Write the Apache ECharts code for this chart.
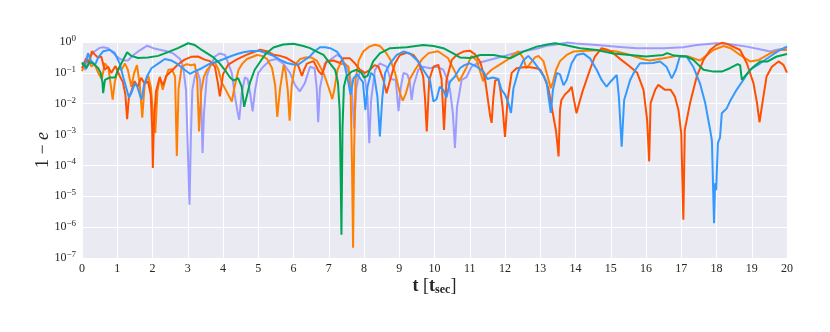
<!DOCTYPE html>
<html>
<head>
<meta charset="utf-8">
<script src="https://cdn.jsdelivr.net/npm/echarts@6/dist/echarts.min.js"></script>
<style>
html, body { margin: 0; padding: 0; background: #fff; }
#chart { width: 830px; height: 332px; }
</style>
</head>
<body>
<div id="chart"></div>
<script>
// points are [t, log10(1 - e)]
const redPts = [
  [0, -0.85], [0.12, -0.52], [0.2, -0.7], [0.28, -0.3], [0.36, -0.4], [0.45, -0.5], [0.55, -0.48], [0.64, -0.9],
  [0.74, -0.8], [0.83, -1.0], [0.95, -0.78], [1.07, -1.1], [1.16, -1.3], [1.23, -1.7], [1.28, -2.5], [1.33, -1.8],
  [1.4, -1.6], [1.49, -1.27], [1.58, -1.45], [1.68, -1.16], [1.78, -1.35], [1.87, -1.27], [1.95, -1.7], [1.99, -2.8],
  [2.01, -4.08], [2.04, -2.6], [2.1, -1.6], [2.2, -1.16], [2.3, -1.4], [2.39, -1.1], [2.54, -0.94], [2.72, -0.73],
  [2.91, -0.57], [3.1, -0.48], [3.29, -0.47], [3.48, -0.57], [3.63, -0.62], [3.77, -0.8], [3.85, -1.3], [3.91, -1.76],
  [3.96, -1.4], [4.0, -1.05], [4.15, -0.73], [4.38, -0.57], [4.68, -0.41], [5.05, -0.25], [5.24, -0.3], [5.43, -0.41],
  [5.62, -0.45], [5.81, -0.52], [6.0, -0.65], [6.14, -0.78], [6.24, -1.1], [6.3, -0.9], [6.38, -0.7], [6.57, -0.62],
  [6.71, -0.94], [6.8, -1.06], [6.94, -0.62], [7.13, -0.6], [7.32, -0.68], [7.41, -0.53], [7.6, -0.53], [7.74, -0.69],
  [7.89, -0.9], [8.03, -1.0], [8.17, -0.9], [8.3, -0.75], [8.41, -0.8], [8.55, -1.23], [8.64, -1.66], [8.74, -1.23],
  [8.88, -0.69], [9.02, -0.42], [9.21, -0.35], [9.4, -0.42], [9.54, -0.63], [9.68, -1.12], [9.73, -1.8], [9.78, -2.9],
  [9.85, -1.23], [9.97, -0.8], [10.11, -0.74], [10.2, -1.2], [10.27, -2.85], [10.34, -1.23], [10.49, -0.58], [10.63, -0.42],
  [10.82, -0.31], [11.0, -0.28], [11.15, -0.4], [11.3, -0.65], [11.44, -1.25], [11.53, -2.0], [11.58, -2.4], [11.62, -2.62],
  [11.67, -1.8], [11.72, -1.25], [11.81, -1.2], [11.86, -1.49], [11.93, -2.1], [12.0, -3.08], [12.07, -1.9], [12.19, -1.0],
  [12.33, -0.85], [12.52, -0.82], [12.71, -0.82], [12.9, -0.85], [13.0, -0.9], [13.1, -1.1], [13.23, -1.5], [13.33, -2.14],
  [13.45, -2.9], [13.52, -3.71], [13.56, -2.2], [13.6, -1.88], [13.7, -1.7], [13.8, -1.6], [13.89, -1.45], [13.96, -1.9],
  [14.03, -2.31], [14.1, -2.0], [14.2, -1.6], [14.41, -0.9], [14.55, -0.47], [14.74, -0.2], [14.9, -0.25], [15.07, -0.36],
  [15.3, -0.58], [15.55, -0.8], [15.75, -1.0], [15.93, -1.55], [16.03, -2.5], [16.09, -3.87], [16.13, -1.98], [16.26, -1.55],
  [16.35, -1.39], [16.54, -1.55], [16.7, -1.55], [16.82, -1.77], [16.92, -2.2], [17.0, -2.96], [17.06, -5.76], [17.1, -2.85],
  [17.25, -1.98], [17.44, -1.12], [17.63, -0.58], [17.82, -0.26], [18.0, -0.1], [18.17, -0.02], [18.38, -0.1], [18.67, -0.26],
  [18.86, -0.69], [19.05, -1.34], [19.15, -1.98], [19.22, -2.6], [19.33, -1.77], [19.42, -1.12], [19.57, -0.8], [19.76, -0.63],
  [19.9, -0.74], [20.0, -0.99]
];
const orangePts = [
  [0, -0.95], [0.1, -0.6], [0.18, -0.58], [0.27, -0.8], [0.35, -0.7], [0.46, -1.0], [0.56, -1.2], [0.65, -0.69],
  [0.75, -0.85], [0.81, -1.34], [0.87, -1.87], [0.93, -1.3], [1.03, -0.85], [1.12, -0.9], [1.22, -0.7], [1.3, -0.9],
  [1.4, -1.45], [1.48, -1.0], [1.56, -0.75], [1.64, -1.4], [1.71, -2.45], [1.78, -1.34], [1.88, -1.1], [1.96, -1.5],
  [2.02, -2.4], [2.08, -2.95], [2.14, -1.6], [2.21, -1.12], [2.29, -1.55], [2.37, -1.2], [2.45, -0.9], [2.55, -0.88],
  [2.64, -1.12], [2.69, -3.69], [2.74, -1.5], [2.83, -0.8], [2.97, -0.72], [3.11, -0.75], [3.2, -0.72], [3.27, -1.23],
  [3.32, -2.9], [3.38, -1.6], [3.46, -1.12], [3.55, -0.9], [3.68, -0.72], [3.77, -0.66], [3.87, -0.9], [3.96, -1.3],
  [4.1, -1.6], [4.25, -1.93], [4.32, -1.5], [4.44, -0.9], [4.55, -0.7], [4.68, -0.55], [4.86, -0.47], [4.96, -0.42],
  [5.1, -0.45], [5.25, -0.55], [5.39, -0.84], [5.48, -1.4], [5.54, -2.43], [5.62, -1.5], [5.72, -0.75], [5.78, -1.0],
  [5.84, -1.6], [5.89, -2.55], [5.95, -1.4], [6.05, -0.73], [6.19, -0.55], [6.35, -0.5], [6.5, -0.5], [6.66, -0.6],
  [6.85, -1.0], [6.99, -1.45], [7.1, -1.85], [7.15, -1.6], [7.25, -0.9], [7.32, -0.72], [7.45, -0.7], [7.56, -0.8],
  [7.62, -1.6], [7.66, -4.0], [7.69, -6.67], [7.72, -3.5], [7.76, -1.23], [7.85, -0.6], [7.98, -0.31], [8.15, -0.15],
  [8.31, -0.09], [8.45, -0.13], [8.6, -0.31], [8.74, -0.55], [8.88, -1.0], [9.02, -1.66], [9.1, -1.9], [9.18, -1.7],
  [9.3, -1.2], [9.45, -0.9], [9.64, -0.57], [9.83, -0.36], [10.1, -0.3], [10.38, -0.52], [10.57, -0.94], [10.7, -1.27],
  [10.78, -1.1], [10.9, -0.84], [11.05, -0.45], [11.2, -0.6], [11.29, -0.94], [11.38, -1.27], [11.48, -1.05], [11.62, -0.9],
  [11.76, -0.8], [11.95, -0.66], [12.1, -0.55], [12.24, -0.41], [12.38, -0.3], [12.52, -0.52], [12.6, -0.84], [12.68, -0.75],
  [12.85, -0.5], [12.95, -0.45], [13.09, -0.62], [13.18, -1.0], [13.3, -1.5], [13.36, -1.3], [13.45, -0.9], [13.56, -0.62],
  [13.75, -0.42], [13.94, -0.31], [14.32, -0.28], [14.79, -0.26], [15.17, -0.31], [15.55, -0.42], [15.93, -0.56], [16.11, -0.6],
  [16.5, -0.53], [16.87, -0.45], [17.2, -0.47], [17.4, -0.55], [17.53, -0.6], [17.7, -0.45], [17.91, -0.26], [18.2, -0.13],
  [18.4, -0.2], [18.67, -0.42], [18.95, -0.63], [19.2, -0.58], [19.52, -0.37], [19.8, -0.26], [20.0, -0.26]
];
const bluePts = [
  [0, -0.69], [0.08, -0.8], [0.17, -0.36], [0.25, -0.6], [0.37, -0.74], [0.46, -0.5], [0.6, -0.3], [0.79, -0.25],
  [0.93, -0.36], [1.07, -0.7], [1.17, -1.14], [1.27, -1.55], [1.33, -1.8], [1.4, -1.65], [1.5, -1.35], [1.57, -1.45],
  [1.65, -1.75], [1.69, -1.87], [1.76, -1.4], [1.85, -1.1], [1.97, -0.85], [2.16, -0.7], [2.35, -0.55], [2.54, -0.6],
  [2.72, -0.72], [2.91, -0.9], [3.06, -1.03], [3.2, -0.95], [3.4, -0.85], [3.6, -0.72], [3.82, -0.64], [4.01, -0.56],
  [4.2, -0.47], [4.4, -0.39], [4.58, -0.33], [4.81, -0.29], [5.05, -0.29], [5.24, -0.37], [5.43, -0.45], [5.62, -0.58],
  [5.81, -0.68], [6.0, -0.73], [6.15, -0.72], [6.3, -0.6], [6.47, -0.46], [6.6, -0.3], [6.75, -0.17], [6.9, -0.17],
  [7.04, -0.2], [7.23, -0.31], [7.35, -0.5], [7.46, -0.8], [7.56, -1.34], [7.62, -1.7], [7.7, -1.18], [7.8, -1.05],
  [7.89, -1.18], [7.97, -1.3], [8.04, -2.2], [8.1, -1.45], [8.2, -1.0], [8.29, -1.1], [8.38, -1.77], [8.45, -3.06],
  [8.52, -1.8], [8.6, -1.0], [8.74, -0.69], [8.93, -0.42], [9.12, -0.31], [9.3, -0.37], [9.54, -0.63], [9.68, -0.9],
  [9.87, -1.23], [9.97, -1.93], [10.06, -1.85], [10.15, -1.45], [10.25, -1.55], [10.34, -1.8], [10.44, -1.29], [10.58, -1.12],
  [10.72, -0.85], [10.85, -0.75], [11.0, -0.69], [11.2, -0.8], [11.39, -0.96], [11.5, -1.2], [11.65, -1.15], [11.81, -1.2],
  [11.9, -1.55], [12.0, -1.7], [12.1, -2.0], [12.17, -2.3], [12.24, -1.5], [12.38, -0.94], [12.52, -0.6], [12.66, -0.45],
  [12.8, -0.62], [12.95, -0.85], [13.09, -1.1], [13.18, -1.3], [13.25, -1.9], [13.3, -2.3], [13.36, -1.55], [13.47, -1.0],
  [13.56, -1.05], [13.66, -1.4], [13.75, -1.23], [13.89, -0.69], [14.03, -0.42], [14.22, -0.37], [14.41, -0.53], [14.6, -0.9],
  [14.74, -1.23], [14.88, -1.45], [15.0, -1.28], [15.17, -1.07], [15.23, -1.77], [15.31, -3.39], [15.38, -1.88], [15.55, -1.23],
  [15.7, -0.9], [15.83, -0.69], [16.02, -0.69], [16.2, -0.68], [16.4, -0.63], [16.58, -0.8], [16.73, -1.18], [16.85, -0.9],
  [16.96, -0.47], [17.15, -0.47], [17.34, -0.8], [17.53, -1.34], [17.68, -1.98], [17.78, -2.6], [17.82, -2.85], [17.87, -3.2],
  [17.91, -5.0], [17.93, -5.87], [17.96, -4.58], [17.99, -4.8], [18.04, -3.27], [18.1, -3.1], [18.15, -2.31], [18.29, -2.15],
  [18.38, -1.93], [18.57, -1.55], [18.76, -1.23], [18.95, -0.9], [19.24, -0.69], [19.52, -0.47], [19.8, -0.26], [20.0, -0.15]
];
const greenPts = [
  [0, -0.66], [0.12, -0.85], [0.22, -0.65], [0.32, -0.7], [0.46, -0.85], [0.53, -1.0], [0.58, -1.3], [0.6, -1.66],
  [0.65, -1.23], [0.79, -1.15], [0.94, -1.15], [1.02, -0.9], [1.16, -0.6], [1.28, -0.33], [1.4, -0.45], [1.59, -0.52],
  [1.87, -0.5], [2.16, -0.45], [2.44, -0.33], [2.72, -0.2], [3.01, -0.04], [3.2, -0.1], [3.35, -0.22], [3.54, -0.36],
  [3.73, -0.5], [3.91, -0.7], [4.05, -0.9], [4.2, -1.15], [4.3, -1.25], [4.43, -1.17], [4.53, -1.45], [4.6, -2.1],
  [4.67, -1.77], [4.77, -1.3], [4.9, -0.9], [5.05, -0.65], [5.2, -0.4], [5.43, -0.18], [5.71, -0.08], [6.0, -0.06],
  [6.28, -0.13], [6.47, -0.2], [6.66, -0.31], [6.85, -0.42], [7.04, -0.7], [7.18, -0.9], [7.26, -1.3], [7.31, -2.2],
  [7.34, -4.5], [7.36, -6.25], [7.39, -2.8], [7.43, -1.45], [7.5, -1.12], [7.65, -0.96], [7.79, -0.9], [7.93, -1.0],
  [8.0, -1.15], [8.1, -1.1], [8.26, -0.63], [8.45, -0.37], [8.74, -0.2], [9.21, -0.17], [9.68, -0.1], [9.97, -0.13],
  [10.25, -0.2], [10.53, -0.37], [10.72, -0.5], [11.01, -0.52], [11.3, -0.42], [11.68, -0.42], [12.15, -0.53], [12.52, -0.31],
  [12.9, -0.15], [13.2, -0.08], [13.42, -0.04], [13.7, -0.1], [14.13, -0.2], [14.6, -0.26], [15.07, -0.37], [15.55, -0.42],
  [16.0, -0.47], [16.49, -0.42], [16.6, -0.36], [16.8, -0.44], [17.15, -0.47], [17.34, -0.58], [17.63, -0.9], [17.91, -0.96],
  [18.15, -0.96], [18.38, -0.85], [18.6, -0.72], [18.67, -0.75], [18.72, -1.23], [18.85, -1.05], [19.05, -0.8], [19.24, -0.63],
  [19.45, -0.63], [19.71, -0.47], [20.0, -0.39]
];
const lavenderPts = [
  [0, -0.8], [0.1, -0.9], [0.23, -0.47], [0.36, -0.3], [0.5, -0.19], [0.6, -0.17], [0.74, -0.2], [0.93, -0.41],
  [1.08, -0.55], [1.2, -0.6], [1.3, -0.6], [1.46, -0.42], [1.65, -0.26], [1.85, -0.12], [2.02, -0.2], [2.21, -0.25],
  [2.4, -0.3], [2.59, -0.37], [2.78, -0.55], [2.87, -0.8], [2.95, -1.55], [3.0, -3.38], [3.05, -5.27], [3.09, -3.0],
  [3.13, -1.55], [3.2, -1.12], [3.27, -0.95], [3.35, -1.23], [3.39, -2.3], [3.42, -3.6], [3.46, -2.3], [3.54, -1.12],
  [3.63, -0.8], [3.77, -0.47], [3.91, -0.37], [4.06, -0.42], [4.15, -0.69], [4.25, -1.01], [4.34, -1.77], [4.41, -2.25],
  [4.46, -2.52], [4.53, -1.66], [4.62, -1.15], [4.7, -1.2], [4.77, -1.66], [4.84, -2.25], [4.91, -1.55], [5.0, -1.0],
  [5.14, -0.8], [5.33, -0.6], [5.52, -0.55], [5.71, -0.7], [5.9, -1.0], [6.04, -1.39], [6.18, -1.6], [6.32, -1.34],
  [6.47, -0.8], [6.6, -0.85], [6.66, -1.5], [6.7, -2.6], [6.75, -1.5], [6.89, -0.69], [7.04, -0.58], [7.23, -0.42],
  [7.36, -0.5], [7.5, -0.8], [7.6, -1.1], [7.65, -1.45], [7.72, -2.8], [7.78, -1.5], [7.89, -0.9], [8.0, -1.0],
  [8.1, -1.77], [8.15, -3.28], [8.2, -1.9], [8.31, -0.9], [8.45, -0.69], [8.64, -0.8], [8.75, -1.2], [8.9, -1.23],
  [8.98, -2.24], [9.04, -1.5], [9.12, -1.0], [9.23, -1.05], [9.3, -1.3], [9.35, -1.88], [9.41, -1.4], [9.54, -0.9],
  [9.68, -0.8], [9.87, -0.85], [10.06, -0.8], [10.25, -0.9], [10.36, -1.2], [10.44, -1.55], [10.52, -2.3], [10.58, -3.43],
  [10.64, -2.1], [10.77, -1.23], [10.9, -1.15], [11.05, -0.8], [11.2, -0.7], [11.39, -0.63], [11.77, -0.52], [12.15, -0.4],
  [12.52, -0.3], [12.9, -0.22], [13.18, -0.12], [13.37, -0.1], [13.75, -0.02], [14.0, -0.05], [14.6, -0.1], [15.17, -0.15],
  [15.74, -0.2], [16.5, -0.2], [17.06, -0.17], [17.44, -0.1], [18.0, -0.04], [18.3, -0.06], [18.86, -0.15], [19.33, -0.26],
  [19.52, -0.31], [19.75, -0.24], [20.0, -0.22]
];

const seriesNames = ['lavender', 'orange', 'red', 'blue', 'green'];
const seriesColors = ['#9c9cff', '#ff8000', '#ff5000', '#3399ff', '#00a455'];
const seriesPts = [lavenderPts, orangePts, redPts, bluePts, greenPts];

const serif = '"Liberation Serif", "DejaVu Serif", serif';

const chart = echarts.init(document.getElementById('chart'));

chart.setOption({
  animation: false,
  backgroundColor: '#fff',
  grid: { left: 82, right: 43, top: 42, bottom: 74, backgroundColor: '#eaeaf2', show: true, borderWidth: 0 },
  xAxis: {
    type: 'value',
    min: 0,
    max: 20,
    interval: 1,
    axisLine: { show: false },
    axisTick: { show: false },
    splitLine: { lineStyle: { color: '#fff', width: 1 } },
    axisLabel: { color: '#262626', fontFamily: serif, fontSize: 12, margin: 5 },
    name: '{b|t} [{b|t}{sub|sec}]',
    nameLocation: 'middle',
    nameGap: 18,
    nameMoveOverlap: false,
    nameTextStyle: {
      fontFamily: serif,
      fontSize: 18,
      color: '#262626',
      rich: {
        b: { fontFamily: serif, fontSize: 18, fontWeight: 'bold', color: '#262626' },
        sub: { fontFamily: serif, fontSize: 12, fontWeight: 'bold', color: '#262626', verticalAlign: 'bottom', padding: [8, 0, 0, 0] }
      }
    }
  },
  yAxis: {
    type: 'log',
    logBase: 10,
    min: 1e-7,
    max: 1,
    axisLine: { show: false },
    axisTick: { show: false },
    minorTick: { show: false },
    splitLine: { lineStyle: { color: '#fff', width: 1 } },
    axisLabel: {
      margin: 6,
      formatter: v => '{b|10}{sup|' + String(Math.round(Math.log10(v))).replace('-', '−') + '}',
      rich: {
        b: { fontFamily: serif, fontSize: 12, color: '#262626' },
        sup: { fontFamily: serif, fontSize: 9, color: '#262626', verticalAlign: 'top', padding: [0, 0, 7, 0] }
      }
    },
    name: '{n|1 − }{i|e}',
    nameLocation: 'middle',
    nameGap: 30,
    nameMoveOverlap: false,
    nameRotate: 90,
    nameTextStyle: {
      rich: {
        n: { fontFamily: serif, fontSize: 18, color: '#262626' },
        i: { fontFamily: serif, fontSize: 18, fontStyle: 'italic', color: '#262626' }
      }
    }
  },
  series: seriesPts.map((pts, i) => ({
    name: seriesNames[i],
    type: 'line',
    showSymbol: false,
    symbol: 'none',
    lineStyle: { color: seriesColors[i], width: 2 },
    itemStyle: { color: seriesColors[i] },
    data: pts.map(p => [p[0], Math.pow(10, p[1])])
  }))
});
</script>
</body>
</html>
